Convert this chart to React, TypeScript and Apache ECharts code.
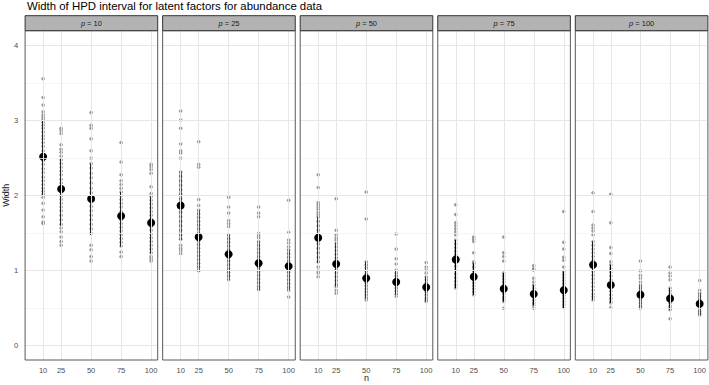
import React, { useEffect, useRef } from "react";
import * as echarts from "echarts";

const titleText = "Width of HPD interval for latent factors for abundance data";
const pValues = [10, 25, 50, 75, 100];
const nValues = [10, 25, 50, 75, 100];
const yTicks = [0, 1, 2, 3, 4];
const yMinor = [0.5, 1.5, 2.5, 3.5];

// mean width per panel (p) and per n
const meanWidth = [
  [2.52, 2.09, 1.96, 1.73, 1.64],
  [1.87, 1.45, 1.22, 1.1, 1.06],
  [1.44, 1.09, 0.9, 0.85, 0.78],
  [1.15, 0.92, 0.76, 0.69, 0.74],
  [1.08, 0.81, 0.68, 0.63, 0.56],
];
// dense core of the draws (appears black)
const coreLow = [
  [2.0, 1.6, 1.48, 1.32, 1.23],
  [1.41, 0.99, 0.88, 0.74, 0.74],
  [1.1, 0.79, 0.63, 0.68, 0.59],
  [0.77, 0.68, 0.59, 0.54, 0.5],
  [0.61, 0.57, 0.5, 0.48, 0.41],
];
const coreHigh = [
  [3.0, 2.5, 2.43, 2.05, 1.99],
  [2.32, 1.81, 1.48, 1.39, 1.28],
  [1.72, 1.37, 1.12, 1.01, 0.92],
  [1.41, 1.1, 0.97, 0.81, 0.99],
  [1.39, 1.08, 0.81, 0.77, 0.7],
];

// individual widths (grey points), per n
const drawsP10 = [
  [3.56, 3.31, 3.21, 3.12, 3.08, 3.05, 3.02, 2.98, 2.94, 2.9, 2.85, 2.8, 2.76, 2.71, 2.66, 2.6, 2.55, 2.47, 2.42, 2.36, 2.31, 2.25, 2.2, 2.15, 2.1, 2.06, 2.02, 1.98, 1.9, 1.81, 1.72, 1.65, 1.63],
  [2.9, 2.87, 2.83, 2.68, 2.62, 2.58, 2.53, 2.48, 2.43, 2.38, 2.33, 2.28, 2.22, 2.17, 2.12, 2.05, 2.0, 1.95, 1.9, 1.85, 1.8, 1.74, 1.68, 1.62, 1.57, 1.52, 1.45, 1.39, 1.34],
  [3.11, 2.94, 2.9, 2.76, 2.6, 2.5, 2.43, 2.37, 2.3, 2.24, 2.17, 2.1, 2.04, 1.98, 1.92, 1.86, 1.8, 1.74, 1.68, 1.62, 1.56, 1.5, 1.34, 1.28, 1.19, 1.13],
  [2.71, 2.45, 2.28, 2.2, 2.15, 2.1, 2.05, 2.0, 1.95, 1.9, 1.85, 1.79, 1.74, 1.68, 1.63, 1.58, 1.53, 1.48, 1.43, 1.38, 1.33, 1.25, 1.19],
  [2.42, 2.39, 2.35, 2.3, 2.12, 2.03, 1.99, 1.94, 1.89, 1.84, 1.79, 1.74, 1.69, 1.64, 1.59, 1.54, 1.49, 1.44, 1.39, 1.34, 1.29, 1.24, 1.19, 1.16, 1.13],
];
const drawsP25 = [
  [3.13, 3.01, 2.9, 2.69, 2.6, 2.57, 2.5, 2.32, 2.26, 2.2, 2.14, 2.08, 2.02, 1.96, 1.9, 1.84, 1.78, 1.72, 1.66, 1.6, 1.54, 1.48, 1.42, 1.34, 1.3, 1.27, 1.23],
  [2.72, 2.42, 2.38, 1.95, 1.87, 1.81, 1.76, 1.71, 1.66, 1.61, 1.56, 1.5, 1.45, 1.4, 1.35, 1.3, 1.25, 1.2, 1.15, 1.1, 1.05, 1.0],
  [1.98, 1.85, 1.77, 1.67, 1.63, 1.59, 1.48, 1.43, 1.38, 1.33, 1.28, 1.23, 1.18, 1.13, 1.08, 1.03, 0.98, 0.93, 0.88],
  [1.85, 1.77, 1.72, 1.5, 1.47, 1.44, 1.39, 1.34, 1.29, 1.24, 1.19, 1.14, 1.09, 1.04, 0.99, 0.94, 0.89, 0.84, 0.79, 0.75],
  [1.94, 1.51, 1.41, 1.37, 1.32, 1.28, 1.23, 1.18, 1.13, 1.08, 1.03, 0.98, 0.93, 0.88, 0.83, 0.78, 0.74, 0.65],
];
const drawsP50 = [
  [2.28, 2.11, 1.91, 1.88, 1.85, 1.82, 1.78, 1.75, 1.72, 1.66, 1.6, 1.54, 1.48, 1.42, 1.36, 1.3, 1.24, 1.18, 1.12, 1.05, 1.0, 0.97, 0.92],
  [1.96, 1.54, 1.48, 1.44, 1.41, 1.37, 1.32, 1.27, 1.22, 1.17, 1.12, 1.07, 1.02, 0.97, 0.92, 0.87, 0.82, 0.79, 0.74, 0.7],
  [2.05, 1.69, 1.12, 1.08, 1.04, 1.0, 0.96, 0.92, 0.88, 0.84, 0.8, 0.76, 0.72, 0.68, 0.64, 0.61],
  [1.49, 1.29, 1.16, 1.09, 1.01, 0.97, 0.93, 0.89, 0.85, 0.81, 0.77, 0.73, 0.69, 0.66],
  [1.11, 1.05, 1.01, 0.97, 0.92, 0.88, 0.84, 0.8, 0.76, 0.72, 0.68, 0.64, 0.61, 0.59],
];
const drawsP75 = [
  [1.88, 1.75, 1.64, 1.6, 1.56, 1.52, 1.48, 1.41, 1.36, 1.31, 1.26, 1.21, 1.16, 1.11, 1.06, 1.01, 0.96, 0.91, 0.86, 0.81, 0.77],
  [1.45, 1.42, 1.39, 1.24, 1.12, 1.1, 1.05, 1.0, 0.96, 0.92, 0.88, 0.84, 0.8, 0.76, 0.72, 0.68],
  [1.45, 1.24, 1.19, 1.13, 0.97, 0.93, 0.89, 0.85, 0.81, 0.77, 0.73, 0.69, 0.65, 0.62, 0.59, 0.5],
  [1.07, 1.03, 1.01, 0.9, 0.85, 0.81, 0.77, 0.73, 0.69, 0.65, 0.61, 0.57, 0.54, 0.5],
  [1.79, 1.38, 1.29, 1.18, 1.14, 1.05, 0.99, 0.95, 0.91, 0.87, 0.83, 0.79, 0.75, 0.71, 0.67, 0.63, 0.59, 0.55, 0.51],
];
const drawsP100 = [
  [2.04, 1.79, 1.61, 1.57, 1.53, 1.48, 1.39, 1.34, 1.29, 1.24, 1.19, 1.14, 1.09, 1.04, 0.99, 0.94, 0.89, 0.84, 0.79, 0.74, 0.69, 0.65, 0.61],
  [2.02, 1.64, 1.31, 1.23, 1.12, 1.08, 1.03, 0.98, 0.93, 0.88, 0.83, 0.78, 0.73, 0.68, 0.63, 0.59, 0.57, 0.51],
  [1.13, 1.0, 0.94, 0.9, 0.85, 0.81, 0.77, 0.73, 0.69, 0.65, 0.61, 0.57, 0.53, 0.5],
  [1.05, 0.97, 0.93, 0.88, 0.77, 0.73, 0.69, 0.65, 0.61, 0.57, 0.53, 0.5, 0.48, 0.36],
  [0.87, 0.74, 0.7, 0.66, 0.62, 0.58, 0.54, 0.5, 0.46, 0.43, 0.41],
];
const drawsByPanel = [drawsP10, drawsP25, drawsP50, drawsP75, drawsP100];

const FONT = "Liberation Sans";

export default function App() {
  const ref = useRef<HTMLDivElement>(null);

  useEffect(() => {
    if (!ref.current) return;
    const chart = echarts.init(ref.current, undefined, { renderer: "svg" });

    const panelLeft0 = 25.1;
    const panelStep = 137.55;
    const panelW = 132.6;
    const panelTop = 30.7;
    const panelH = 329.3;
    const stripTop = 15.7;
    const stripH = 15;

    const grids: any[] = [];
    const xAxes: any[] = [];
    const yAxes: any[] = [];
    const series: any[] = [];
    const graphics: any[] = [];

    pValues.forEach((p, i) => {
      const left = panelLeft0 + i * panelStep;
      grids.push({ left, top: panelTop, width: panelW, height: panelH, show: true, backgroundColor: "#fff", borderWidth: 0 });
      xAxes.push({
        type: "value",
        gridIndex: i,
        min: -5,
        max: 105.5,
        axisLine: { show: false },
        splitLine: { show: false },
        axisTick: { show: true, customValues: nValues, length: 3, lineStyle: { color: "#333", width: 1 } },
        axisLabel: { show: true, customValues: nValues, fontSize: 7.6, color: "#4d4d4d", margin: 6, fontFamily: FONT },
      });
      yAxes.push({
        type: "value",
        gridIndex: i,
        min: -0.19,
        max: 4.2,
        axisLine: { show: false },
        splitLine: { show: false },
        axisTick: { show: i === 0, customValues: yTicks, length: 3, lineStyle: { color: "#333", width: 1 } },
        axisLabel: { show: i === 0, customValues: yTicks, fontSize: 7.6, color: "#4d4d4d", margin: 7, fontFamily: FONT },
        name: i === 0 ? "Width" : "",
        nameLocation: "middle",
        nameRotate: 90,
        nameGap: 13,
        nameTextStyle: { fontSize: 9, color: "#1a1a1a", fontFamily: FONT, fontWeight: "normal" },
      });

      // gridlines
      const mlData: any[] = [];
      yMinor.forEach((v) => mlData.push({ yAxis: v, lineStyle: { color: "#f2f2f2", width: 0.8, type: "solid" } }));
      yTicks.forEach((v) => mlData.push({ yAxis: v, lineStyle: { color: "#e6e6e6", width: 1, type: "solid" } }));
      nValues.forEach((v) => mlData.push({ xAxis: v, lineStyle: { color: "#e6e6e6", width: 1, type: "solid" } }));
      series.push({
        type: "scatter",
        xAxisIndex: i,
        yAxisIndex: i,
        data: [],
        silent: true,
        z: 1,
        markLine: { silent: true, symbol: ["none", "none"], label: { show: false }, animation: false, data: mlData },
      });

      // grey points (filled circles)
      const pts: number[][] = [];
      drawsByPanel[i].forEach((vals, j) => vals.forEach((v) => pts.push([nValues[j], v])));
      series.push({
        type: "custom",
        xAxisIndex: i,
        yAxisIndex: i,
        data: pts,
        encode: { x: 0, y: 1 },
        silent: true,
        z: 2,
        renderItem: (params: any, api: any) => {
          const c = api.coord([api.value(0), api.value(1)]);
          return {
            type: "circle",
            shape: { cx: c[0], cy: c[1], r: 1.8 },
            style: { fill: "#888888", stroke: "none", lineWidth: 0, opacity: 0.85 },
          };
        },
      });

      // dense core segments
      series.push({
        type: "custom",
        xAxisIndex: i,
        yAxisIndex: i,
        data: nValues.map((n, j) => [n, coreLow[i][j], coreHigh[i][j]]),
        encode: { x: 0, y: [1, 2] },
        silent: true,
        z: 3,
        renderItem: (params: any, api: any) => {
          const a = api.coord([api.value(0), api.value(1)]);
          const b = api.coord([api.value(0), api.value(2)]);
          return {
            type: "line",
            shape: { x1: a[0], y1: a[1], x2: b[0], y2: b[1] },
            style: { stroke: "#000", lineWidth: 1.8 },
          };
        },
      });

      // means
      series.push({
        type: "scatter",
        xAxisIndex: i,
        yAxisIndex: i,
        data: nValues.map((n, j) => [n, meanWidth[i][j]]),
        symbol: "circle",
        symbolSize: 8,
        itemStyle: { color: "#000", opacity: 1, borderWidth: 0 },
        silent: true,
        z: 4,
      });

      // panel border
      graphics.push({
        type: "rect",
        shape: { x: left, y: panelTop, width: panelW, height: panelH },
        style: { fill: "none", stroke: "#595959", lineWidth: 1 },
        z: 100,
        silent: true,
      });
      // strip
      graphics.push({
        type: "rect",
        shape: { x: left, y: stripTop, width: panelW, height: stripH },
        style: { fill: "#b3b3b3", stroke: "#333", lineWidth: 1 },
        z: 100,
        silent: true,
      });
      graphics.push({
        type: "text",
        x: left + panelW / 2,
        y: stripTop + stripH / 2,
        style: {
          text: "{i|p} = " + p,
          fontSize: 7.5,
          fontFamily: FONT,
          fontWeight: "normal",
          fill: "#1a1a1a",
          align: "center",
          verticalAlign: "middle",
          rich: { i: { fontStyle: "italic", fontSize: 7.5, fontFamily: FONT, fill: "#1a1a1a" } },
        },
        z: 101,
        silent: true,
      });
    });

    graphics.push({
      type: "text",
      x: (panelLeft0 + panelLeft0 + 4 * panelStep + panelW) / 2,
      y: 378,
      style: { text: "n", fontSize: 9, fontFamily: FONT, fontWeight: "normal", fill: "#1a1a1a", align: "center", verticalAlign: "middle" },
      z: 101,
      silent: true,
    });

    chart.setOption({
      animation: false,
      backgroundColor: "#fff",
      title: {
        text: titleText,
        left: 27,
        top: 0,
        padding: 0,
        textStyle: { fontSize: 11.4, fontWeight: "normal", color: "#000", fontFamily: FONT },
      },
      grid: grids,
      xAxis: xAxes,
      yAxis: yAxes,
      series,
      graphic: graphics,
    });

    return () => chart.dispose();
  }, []);

  return <div ref={ref} style={{ position: "fixed", left: 0, top: 0, width: 709, height: 385 }} />;
}
